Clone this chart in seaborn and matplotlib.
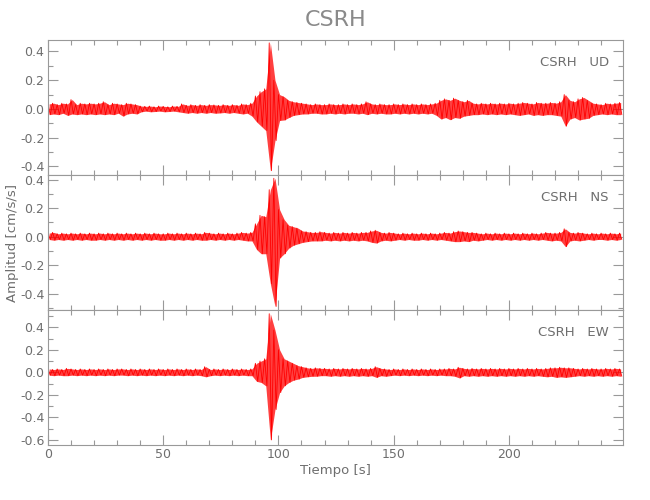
import numpy as np
import pandas as pd
import matplotlib
matplotlib.use("Agg")
import matplotlib.pyplot as plt
import seaborn as sns
from matplotlib.ticker import MultipleLocator

# peak values per 2 s bin read from the record (cm/s/s); bin start times 0, 2, ... 248 s
bin_start = list(range(0, 250, 2))

ud_max = [0.035, 0.04, 0.03, 0.04, 0.035, 0.065, 0.03, 0.04, 0.035, 0.04,
          0.035, 0.04, 0.05, 0.03, 0.04, 0.035, 0.03, 0.04, 0.035, 0.03,
          0.02, 0.018, 0.02, 0.015, 0.02, 0.018, 0.015, 0.02, 0.018, 0.035,
          0.025, 0.03, 0.025, 0.03, 0.025, 0.03, 0.028, 0.025, 0.03, 0.025,
          0.03, 0.025, 0.035, 0.03, 0.04, 0.09, 0.12, 0.14, 0.46, 0.2,
          0.1, 0.085, 0.06, 0.05, 0.045, 0.04, 0.035, 0.03, 0.035, 0.03,
          0.03, 0.035, 0.03, 0.03, 0.035, 0.03, 0.035, 0.03, 0.035, 0.05,
          0.035, 0.03, 0.035, 0.03, 0.03, 0.035, 0.03, 0.035, 0.03, 0.035,
          0.03, 0.035, 0.03, 0.035, 0.04, 0.06, 0.07, 0.06, 0.075, 0.06,
          0.05, 0.06, 0.04, 0.035, 0.04, 0.035, 0.04, 0.035, 0.04, 0.035,
          0.04, 0.035, 0.04, 0.045, 0.04, 0.035, 0.045, 0.04, 0.04, 0.045,
          0.04, 0.05, 0.1, 0.06, 0.05, 0.07, 0.08, 0.06, 0.04, 0.035,
          0.03, 0.04, 0.035, 0.04, 0.045]
ud_min = [-0.04, -0.035, -0.04, -0.03, -0.045, -0.035, -0.04, -0.035, -0.04, -0.035,
          -0.04, -0.035, -0.04, -0.035, -0.04, -0.03, -0.05, -0.035, -0.03, -0.035,
          -0.02, -0.015, -0.02, -0.018, -0.015, -0.02, -0.018, -0.015, -0.02, -0.025,
          -0.03, -0.025, -0.03, -0.025, -0.03, -0.025, -0.03, -0.028, -0.025, -0.03,
          -0.025, -0.03, -0.035, -0.03, -0.05, -0.09, -0.12, -0.15, -0.43, -0.22,
          -0.08, -0.077, -0.06, -0.045, -0.04, -0.035, -0.035, -0.03, -0.03, -0.035,
          -0.035, -0.03, -0.035, -0.03, -0.035, -0.03, -0.03, -0.035, -0.03, -0.04,
          -0.03, -0.035, -0.03, -0.035, -0.035, -0.03, -0.035, -0.03, -0.035, -0.03,
          -0.035, -0.03, -0.035, -0.03, -0.045, -0.07, -0.06, -0.075, -0.06, -0.065,
          -0.05, -0.045, -0.04, -0.04, -0.035, -0.04, -0.035, -0.04, -0.035, -0.04,
          -0.035, -0.04, -0.045, -0.04, -0.035, -0.045, -0.04, -0.045, -0.04, -0.04,
          -0.045, -0.05, -0.12, -0.07, -0.06, -0.077, -0.07, -0.065, -0.045, -0.04,
          -0.035, -0.04, -0.035, -0.04, -0.04]

ns_max = [0.025, 0.03, 0.02, 0.025, 0.02, 0.025, 0.02, 0.025, 0.02, 0.025,
          0.02, 0.025, 0.02, 0.025, 0.02, 0.025, 0.02, 0.025, 0.02, 0.025,
          0.02, 0.025, 0.02, 0.025, 0.02, 0.02, 0.025, 0.02, 0.025, 0.02,
          0.025, 0.02, 0.025, 0.02, 0.03, 0.025, 0.02, 0.025, 0.02, 0.025,
          0.02, 0.025, 0.03, 0.025, 0.03, 0.09, 0.15, 0.14, 0.33, 0.41,
          0.19, 0.12, 0.08, 0.07, 0.06, 0.04, 0.035, 0.03, 0.03, 0.035,
          0.03, 0.025, 0.03, 0.025, 0.03, 0.025, 0.03, 0.025, 0.03, 0.03,
          0.04, 0.045, 0.03, 0.025, 0.03, 0.025, 0.02, 0.025, 0.02, 0.025,
          0.02, 0.025, 0.02, 0.025, 0.02, 0.025, 0.03, 0.025, 0.035, 0.04,
          0.035, 0.03, 0.03, 0.025, 0.02, 0.025, 0.02, 0.025, 0.02, 0.025,
          0.02, 0.025, 0.02, 0.025, 0.02, 0.025, 0.02, 0.025, 0.03, 0.025,
          0.025, 0.03, 0.055, 0.03, 0.025, 0.03, 0.025, 0.02, 0.025, 0.02,
          0.025, 0.02, 0.025, 0.02, 0.025]
ns_min = [-0.02, -0.025, -0.02, -0.025, -0.02, -0.025, -0.02, -0.025, -0.02, -0.025,
          -0.025, -0.02, -0.025, -0.02, -0.025, -0.02, -0.025, -0.02, -0.025, -0.02,
          -0.025, -0.02, -0.025, -0.02, -0.025, -0.025, -0.02, -0.025, -0.02, -0.025,
          -0.02, -0.025, -0.02, -0.025, -0.025, -0.02, -0.025, -0.02, -0.025, -0.02,
          -0.025, -0.02, -0.025, -0.03, -0.03, -0.09, -0.12, -0.12, -0.33, -0.49,
          -0.15, -0.12, -0.08, -0.06, -0.05, -0.04, -0.035, -0.03, -0.03, -0.03,
          -0.025, -0.03, -0.025, -0.03, -0.025, -0.03, -0.025, -0.03, -0.025, -0.03,
          -0.04, -0.045, -0.03, -0.025, -0.03, -0.025, -0.02, -0.025, -0.02, -0.025,
          -0.025, -0.02, -0.025, -0.02, -0.025, -0.02, -0.025, -0.03, -0.035, -0.035,
          -0.03, -0.035, -0.025, -0.03, -0.025, -0.02, -0.025, -0.02, -0.025, -0.02,
          -0.025, -0.02, -0.025, -0.02, -0.025, -0.02, -0.025, -0.02, -0.025, -0.03,
          -0.025, -0.03, -0.07, -0.03, -0.025, -0.03, -0.025, -0.02, -0.025, -0.02,
          -0.02, -0.025, -0.02, -0.025, -0.02]

ew_max = [0.03, 0.025, 0.03, 0.025, 0.035, 0.03, 0.025, 0.03, 0.025, 0.03,
          0.025, 0.03, 0.025, 0.03, 0.025, 0.03, 0.03, 0.025, 0.03, 0.025,
          0.03, 0.025, 0.03, 0.025, 0.03, 0.025, 0.03, 0.025, 0.03, 0.025,
          0.03, 0.025, 0.03, 0.025, 0.05, 0.025, 0.03, 0.025, 0.03, 0.025,
          0.03, 0.025, 0.03, 0.025, 0.03, 0.08, 0.1, 0.12, 0.52, 0.375,
          0.2, 0.12, 0.1, 0.08, 0.06, 0.05, 0.04, 0.035, 0.04, 0.035,
          0.035, 0.03, 0.035, 0.03, 0.035, 0.03, 0.035, 0.03, 0.035, 0.03,
          0.035, 0.05, 0.035, 0.03, 0.025, 0.03, 0.025, 0.03, 0.025, 0.03,
          0.025, 0.03, 0.025, 0.03, 0.025, 0.03, 0.03, 0.035, 0.03, 0.045,
          0.035, 0.03, 0.035, 0.03, 0.035, 0.03, 0.035, 0.03, 0.035, 0.03,
          0.035, 0.03, 0.035, 0.03, 0.035, 0.03, 0.035, 0.03, 0.035, 0.04,
          0.04, 0.045, 0.04, 0.04, 0.035, 0.03, 0.035, 0.03, 0.035, 0.03,
          0.03, 0.035, 0.03, 0.035, 0.03]
ew_min = [-0.025, -0.03, -0.025, -0.03, -0.03, -0.025, -0.03, -0.025, -0.03, -0.025,
          -0.03, -0.025, -0.03, -0.025, -0.03, -0.025, -0.025, -0.03, -0.025, -0.03,
          -0.025, -0.03, -0.025, -0.03, -0.025, -0.03, -0.025, -0.03, -0.025, -0.03,
          -0.025, -0.03, -0.025, -0.03, -0.04, -0.03, -0.025, -0.03, -0.025, -0.03,
          -0.025, -0.03, -0.025, -0.03, -0.03, -0.08, -0.09, -0.12, -0.60, -0.33,
          -0.18, -0.12, -0.09, -0.07, -0.06, -0.045, -0.04, -0.035, -0.035, -0.03,
          -0.03, -0.035, -0.03, -0.035, -0.03, -0.035, -0.03, -0.035, -0.03, -0.035,
          -0.03, -0.045, -0.03, -0.035, -0.03, -0.025, -0.03, -0.025, -0.03, -0.025,
          -0.03, -0.025, -0.03, -0.025, -0.03, -0.025, -0.03, -0.03, -0.035, -0.05,
          -0.03, -0.035, -0.03, -0.035, -0.03, -0.035, -0.03, -0.035, -0.03, -0.035,
          -0.03, -0.035, -0.03, -0.035, -0.03, -0.035, -0.03, -0.035, -0.04, -0.035,
          -0.045, -0.04, -0.045, -0.04, -0.035, -0.03, -0.035, -0.03, -0.035, -0.03,
          -0.035, -0.03, -0.035, -0.03, -0.035]

components = ["UD", "NS", "EW"]
station = "CSRH"
y_limits = [(-0.46, 0.48), (-0.515, 0.433), (-0.645, 0.553)]

sns.set_style("ticks")
plt.rcParams["font.family"] = ["DejaVu Sans"]
gray = "#6e6e6e"

fig = plt.figure(figsize=(6.5, 5), dpi=100)
bottoms = [0.65, 0.38, 0.11]
series = [(ud_max, ud_min), (ns_max, ns_min), (ew_max, ew_min)]

for k, comp in enumerate(components):
    ax = fig.add_axes([0.0738, bottoms[k], 0.885, 0.27])
    hi, lo = series[k]
    t = np.array(bin_start, dtype=float)
    # min/max trace: peak of each bin followed by its trough
    df = pd.DataFrame({
        "t": np.column_stack([t, t + 1]).ravel(),
        "a": np.column_stack([hi, lo]).ravel(),
    })
    ax.fill_between(t + 0.5, lo, hi, color="#ff0000", alpha=0.75, lw=0)
    sns.lineplot(data=df, x="t", y="a", ax=ax, color="#ff0000",
                 lw=0.6, estimator=None, sort=False)
    ax.set_xlim(0, 249.6)
    ax.set_ylim(*y_limits[k])
    ax.xaxis.set_major_locator(MultipleLocator(50))
    ax.xaxis.set_minor_locator(MultipleLocator(10))
    ax.yaxis.set_major_locator(MultipleLocator(0.2))
    ax.yaxis.set_minor_locator(MultipleLocator(0.1))
    ax.yaxis.set_major_formatter(plt.FormatStrFormatter("%.1f"))
    ax.tick_params(which="both", direction="in", top=True, right=True,
                   colors="#999999", labelcolor=gray, labelsize=9)
    ax.tick_params(which="major", length=7, width=0.8, pad=2.5)
    ax.tick_params(which="minor", length=3.5, width=0.8)
    for s in ax.spines.values():
        s.set_color("#999999")
        s.set_linewidth(0.8)
    ax.set_xlabel("")
    ax.set_ylabel("")
    if k < 2:
        ax.tick_params(labelbottom=False)
    else:
        ax.set_xlabel("Tiempo [s]", color=gray, fontsize=9.5, labelpad=2)
    ax.text(0.975, 0.835, f"{station}   {comp}", transform=ax.transAxes,
            ha="right", va="center", fontsize=9.5, color=gray)

fig.text(0.517, 0.96, station, ha="center", va="center", fontsize=16, color="#8a8a8a")
fig.text(0.019, 0.515, "Amplitud [cm/s/s]", rotation=90, ha="center", va="center",
         fontsize=9.5, color=gray)

fig.savefig("out.png", dpi=100, facecolor="white")
